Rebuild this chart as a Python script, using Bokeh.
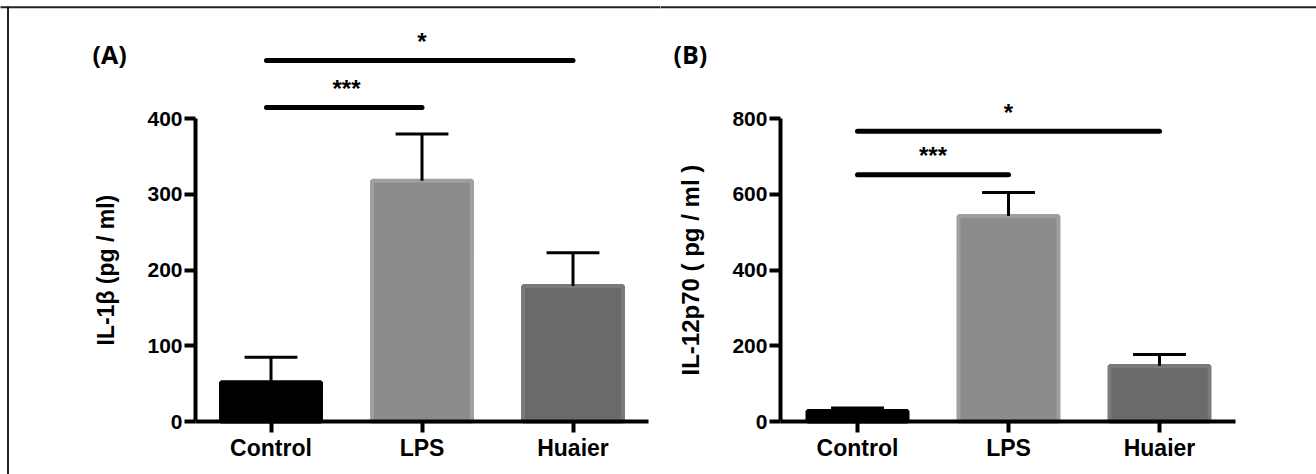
import math
from bokeh.plotting import figure
from bokeh.models import Range1d, ColumnDataSource, FixedTicker
from bokeh.layouts import row
from bokeh.embed import file_html
from bokeh.resources import INLINE
from bokeh.core.properties import value

# ---------------- data ----------------
groups = ["Control", "LPS", "Huaier"]

il1b_mean = [52, 318, 179]
il1b_err = [33, 62, 44]
il1b_ticks = [0, 100, 200, 300, 400]

il12_mean = [28, 543, 147]
il12_err = [8, 62, 30]
il12_ticks = [0, 200, 400, 600, 800]

# significance comparisons: (group a, group b), label, bracket height
sig_a_pairs = [("Control", "LPS"), ("Control", "Huaier")]
sig_a_labels = ["***", "*"]
sig_a_levels = [415, 477]

sig_b_pairs = [("Control", "LPS"), ("Control", "Huaier")]
sig_b_labels = ["***", "*"]
sig_b_levels = [652, 767]

bar_fill = ["#000000", "#8b8b8b", "#6a6a6a"]
bar_edge = ["#000000", "#9f9f9f", "#7a7a7a"]

FONT = "Liberation Sans"
HEIGHT = 474


def make_panel(tag, ylabel, ylabel_size, means, errs, ticks, pairs, labels, levels,
               width, px0, x_center0, px_unit_x, y_zero_px, px_unit_y,
               axis_x, sig_off, draw_left_border):
    # pixel -> data helpers for this panel's canvas (layout only)
    def dx(px):
        return (px - x_center0) / px_unit_x

    def dy(py):
        return (y_zero_px - py) / px_unit_y

    p = figure(x_range=Range1d(dx(px0), dx(px0 + width)),
               y_range=Range1d(dy(HEIGHT), dy(0)),
               width=width, height=HEIGHT, min_border=0,
               min_border_left=0, min_border_right=0,
               min_border_top=0, min_border_bottom=0,
               output_backend="svg", toolbar_location=None)
    p.outline_line_color = None
    p.xgrid.visible = False
    p.ygrid.visible = False
    p.background_fill_color = "white"
    p.border_fill_color = "white"

    # image frame (top and left edge)
    p.segment(x0=[dx(px0 - 5)], y0=[dy(6.7)], x1=[dx(px0 + width + 5)], y1=[dy(6.7)],
              line_width=2, line_color="#222222")
    if draw_left_border:
        p.segment(x0=[dx(7.5)], y0=[dy(5.7)], x1=[dx(7.5)], y1=[dy(HEIGHT + 5)],
                  line_width=2, line_color="#222222")

    pos = list(range(len(groups)))
    src = ColumnDataSource(dict(
        x=pos, mean=means,
        upper=[m + e for m, e in zip(means, errs)],
        cap0=[x - 0.175 for x in pos], cap1=[x + 0.175 for x in pos],
        fill=bar_fill, edge=bar_edge))

    p.vbar(x="x", top="mean", width=0.662, bottom=0, fill_color="fill",
           line_color="edge", line_width=4, source=src)
    p.segment(x0="x", y0="mean", x1="x", y1="upper", line_width=3,
              line_color="black", source=src)
    p.segment(x0="cap0", y0="upper", x1="cap1", y1="upper",
              line_width=3, line_color="black", source=src)

    # significance brackets
    ia = [groups.index(a) for a, b in pairs]
    ib = [groups.index(b) for a, b in pairs]
    ssrc = ColumnDataSource(dict(
        x0=[i + sig_off for i in ia], x1=ib, y=levels,
        mid=[(i + j) / 2 for i, j in zip(ia, ib)], lab=labels))
    p.segment(x0="x0", y0="y", x1="x1", y1="y", line_width=5,
              line_cap="round", line_color="black", source=ssrc)
    p.text(x="mid", y="y", text="lab", source=ssrc, text_align="center",
           text_baseline="alphabetic", y_offset=-19, text_font_size="24px",
           text_font_style="bold", text_color="black", text_font=value(FONT))

    # panel tag and y-axis title
    p.text(x=[dx(px0 + tag[1])], y=[dy(53)], text=[tag[0]], text_align="left",
           text_baseline="middle", text_font=value("Open Sans"),
           text_font_style="bold", text_font_size="25px", text_color="black")
    p.text(x=[dx(px0 + ylabel_size[1])], y=[(ticks[0] + ticks[-1]) / 2], text=[ylabel],
           angle=math.pi / 2, text_align="center", text_baseline="middle",
           text_font=value(FONT), text_font_style="bold",
           text_font_size=ylabel_size[0], text_color="black")

    # axes (placed at fixed data locations)
    ya = p.yaxis[0]
    ya.fixed_location = axis_x
    ya.ticker = FixedTicker(ticks=ticks)
    ya.bounds = (ticks[0], ticks[-1])
    ya.axis_line_width = 4
    ya.major_tick_line_width = 4
    ya.major_tick_out = 11
    ya.major_tick_in = 0
    ya.minor_tick_line_color = None
    ya.major_label_standoff = 2
    ya.major_label_text_font = FONT
    ya.major_label_text_font_style = "bold"
    ya.major_label_text_font_size = "21px"
    ya.major_label_text_color = "black"

    xa = p.xaxis[0]
    xa.fixed_location = 0
    xa.ticker = FixedTicker(ticks=pos)
    xa.major_label_overrides = {i: g for i, g in zip(pos, groups)}
    xa.bounds = (axis_x, len(groups) - 0.5)
    xa.axis_line_width = 4
    xa.major_tick_line_width = 4
    xa.major_tick_out = 11
    xa.major_tick_in = 0
    xa.minor_tick_line_color = None
    xa.major_label_standoff = 2
    xa.major_label_text_font = FONT
    xa.major_label_text_font_style = "bold"
    xa.major_label_text_font_size = "23px"
    xa.major_label_text_color = "black"
    return p


pa = make_panel(("(A)", 92), "IL-1\u03b2 (pg / ml)", ("23px", 105.5),
                il1b_mean, il1b_err, il1b_ticks,
                sig_a_pairs, sig_a_labels, sig_a_levels,
                width=660, px0=0, x_center0=270.5, px_unit_x=151,
                y_zero_px=421, px_unit_y=0.7568,
                axis_x=-0.5, sig_off=-0.03, draw_left_border=True)
pb = make_panel(("(B)", 13), "IL-12p70 ( pg / ml )", ("24px", 30),
                il12_mean, il12_err, il12_ticks,
                sig_b_pairs, sig_b_labels, sig_b_levels,
                width=656, px0=660, x_center0=857, px_unit_x=151,
                y_zero_px=421, px_unit_y=0.3784,
                axis_x=-0.51, sig_off=0.0, draw_left_border=False)

layout = row(pa, pb)

open("out.html", "w").write(file_html(layout, INLINE))
